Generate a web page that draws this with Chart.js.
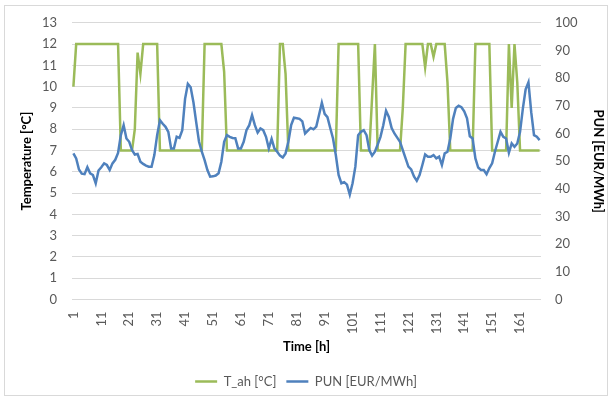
<!DOCTYPE html>
<html>
<head>
<meta charset="utf-8">
<script src="https://cdn.jsdelivr.net/npm/chart.js@4"></script>
<style>
  html, body { margin: 0; padding: 0; background: #ffffff; }
  canvas { display: block; }
</style>
</head>
<body>
<canvas id="chart" width="612" height="400"></canvas>
<script>
// hourly values, one week (168 h)
const tAh = [
    10, 12, 12, 12, 12, 12, 12, 12, 12, 12,
    12, 12, 12, 12, 12, 12, 12, 7, 7, 7,
    7, 7, 8, 11.6, 10.6, 12, 12, 12, 12, 12,
    12, 7, 7, 7, 7, 7, 7, 7, 7, 7,
    7, 7, 7, 7, 7, 7, 7, 12, 12, 12,
    12, 12, 12, 12, 10.7, 7, 7, 7, 7, 7,
    7, 7, 7, 7, 7, 7, 7, 7, 7, 7,
    7, 7, 7, 7, 12, 12, 10.6, 7, 7, 7,
    7, 7, 7, 7, 7, 7, 7, 7, 7, 7,
    7, 7, 7, 7, 7, 12, 12, 12, 12, 12,
    12, 12, 12, 7, 7, 7, 7, 9.5, 12, 7,
    7, 7, 7, 7, 7, 7, 7, 7, 9, 12,
    12, 12, 12, 12, 12, 12, 10.9, 12, 12, 11.4,
    12, 12, 12, 12, 10.2, 7, 7, 7, 7, 7,
    7, 7, 7, 7, 12, 12, 12, 12, 12, 12,
    7, 7, 7, 7, 7, 7, 12, 9, 12, 10.2,
    7, 7, 7, 7, 7, 7, 7, 7
];

const pun = [
    52.8, 51, 47, 45.5, 45.3, 47.8, 45.6, 45, 42, 46.6,
    47.8, 49.2, 48.6, 46.8, 49.2, 50.5, 53, 59.4, 63, 58.2,
    57, 54, 52.4, 52.6, 49.8, 49, 48.4, 48, 48, 52.2,
    59.4, 64.8, 63.5, 62.4, 60.6, 54.6, 54.6, 58.8, 58.4, 61.2,
    72.5, 77.9, 76.7, 71.3, 64, 57, 53.4, 50.4, 46.8, 44.4,
    44.5, 44.8, 45.6, 49.8, 57, 59.4, 58.8, 58.4, 58.3, 54.6,
    54.6, 57, 61.2, 63, 66.6, 63, 60.3, 61.8, 61.2, 58.8,
    54.6, 58, 54.6, 53.4, 52, 51.3, 52.8, 57, 63, 65.7,
    65.5, 65.3, 64.4, 60, 61, 62, 61.5, 62.5, 66.8, 71.1,
    67.1, 65.9, 62, 58.2, 52.2, 45, 42, 42.4, 41.5, 37.9,
    42, 48, 59.4, 60.6, 61.2, 59.4, 54, 52, 53.4, 56,
    58.8, 63, 68.2, 66, 62, 60, 58.5, 57, 54, 51,
    48, 47, 44.5, 42.9, 45, 48.6, 52.4, 51.6, 51.6, 52.2,
    51, 51.6, 48.6, 52.8, 53.4, 58.2, 65.3, 69.2, 70, 69.5,
    68, 65.5, 59, 58.2, 51, 47.7, 46.8, 46.8, 45.3, 47.5,
    49.2, 53.4, 57, 60.6, 58.8, 58.2, 53, 56.4, 55.2, 56.4,
    60.6, 69, 76, 78.5, 67.7, 59.4, 58.8, 57.6
];

const hours = Array.from({ length: tAh.length }, (v, i) => String(i + 1));
const shownHours = ["1", "11", "21", "31", "41", "51", "61", "71", "81",
    "91", "101", "111", "121", "131", "141", "151", "161"];

const GREEN = "#9bbb59";
const BLUE = "#4f81bd";
const GRID = "#d9d9d9";
const TICK_TEXT = "#595959";
const FONT = "Lato, 'Open Sans', sans-serif";

// white page + thin grey frame like the spreadsheet chart area
const frame = {
    id: "frame",
    beforeDraw(chart) {
        const ctx = chart.ctx;
        ctx.save();
        ctx.fillStyle = "#ffffff";
        ctx.fillRect(0, 0, chart.width, chart.height);
        ctx.restore();
    },
    afterDraw(chart) {
        const ctx = chart.ctx;
        ctx.save();
        ctx.strokeStyle = GRID;
        ctx.lineWidth = 1;
        ctx.strokeRect(4.5, 5.5, 603, 390);
        ctx.restore();
    },
};

new Chart(document.getElementById("chart"), {
    type: "line",
    data: {
        labels: hours,
        datasets: [
            {
                label: "T_ah [°C]",
                data: tAh,
                yAxisID: "y",
                borderColor: GREEN,
                backgroundColor: GREEN,
                borderWidth: 2.5,
                pointRadius: 0,
                tension: 0,
                order: 1,
            },
            {
                label: "PUN [EUR/MWh]",
                data: pun,
                yAxisID: "y1",
                borderColor: BLUE,
                backgroundColor: BLUE,
                borderWidth: 2.5,
                pointRadius: 0,
                tension: 0,
                order: 0,
            },
        ],
    },
    options: {
        responsive: false,
        animation: false,
        devicePixelRatio: 1,
        layout: {
            padding: { left: 0, right: 0, top: 20, bottom: 2 },
        },
        plugins: {
            tooltip: { enabled: false },
            legend: {
                position: "bottom",
                labels: {
                    usePointStyle: true,
                    pointStyle: "line",
                    pointStyleWidth: 22,
                    padding: 10,
                    color: TICK_TEXT,
                    font: { family: FONT, size: 13 },
                    sort: (a, b) => a.datasetIndex - b.datasetIndex,
                },
            },
        },
        scales: {
            x: {
                offset: true,
                grid: { display: false, drawTicks: false },
                border: { display: false },
                ticks: {
                    autoSkip: false,
                    minRotation: 90,
                    maxRotation: 90,
                    padding: 12,
                    color: TICK_TEXT,
                    font: { family: FONT, size: 13 },
                    callback: function (value, index) {
                        const lbl = hours[index];
                        return shownHours.includes(lbl) ? lbl : "";
                    },
                },
                title: {
                    display: true,
                    text: "Time [h]",
                    color: "#000000",
                    font: { family: FONT, size: 13, weight: "bold" },
                    padding: { top: 0, bottom: 10 },
                },
                afterFit: function (scale) {
                    scale.height = 65.5;
                },
            },
            y: {
                position: "left",
                min: 0,
                max: 13,
                ticks: {
                    stepSize: 1,
                    padding: 15,
                    color: TICK_TEXT,
                    font: { family: FONT, size: 13 },
                },
                grid: { color: GRID, lineWidth: 1, drawTicks: false },
                border: { display: false },
                title: {
                    display: true,
                    text: "Temperature [°C]",
                    color: "#000000",
                    font: { family: FONT, size: 13, weight: "bold" },
                    padding: { top: 19, bottom: 0 },
                },
                afterFit: function (scale) {
                    scale.width = 72;
                },
            },
            y1: {
                position: "right",
                min: 0,
                max: 100,
                ticks: {
                    stepSize: 10,
                    padding: 14,
                    color: TICK_TEXT,
                    font: { family: FONT, size: 13 },
                },
                grid: { drawOnChartArea: false, drawTicks: false },
                border: { display: false },
                title: {
                    display: true,
                    text: "PUN [EUR/MWh]",
                    color: "#000000",
                    font: { family: FONT, size: 13, weight: "bold" },
                    padding: { top: 6, bottom: 0 },
                },
                afterFit: function (scale) {
                    scale.width = 71;
                },
            },
        },
    },
    plugins: [frame],
});
</script>
</body>
</html>
